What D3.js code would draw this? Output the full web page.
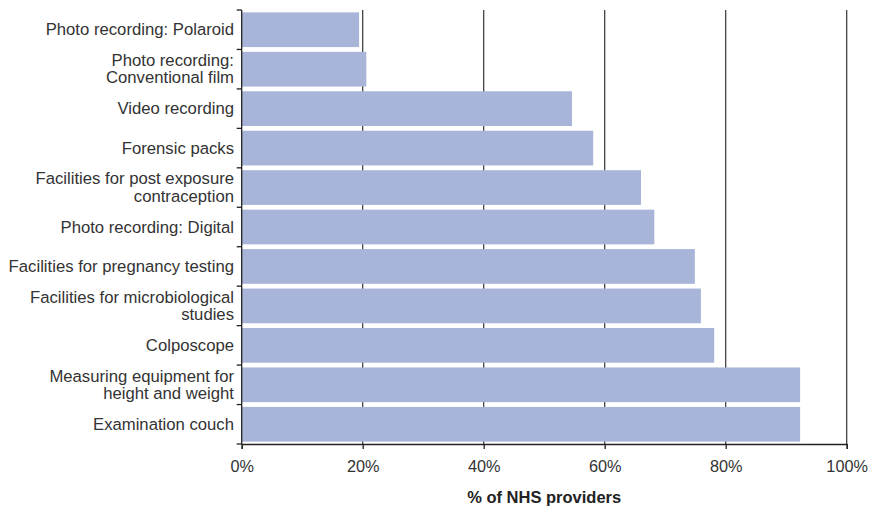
<!DOCTYPE html>
<html><head><meta charset="utf-8">
<script src="https://cdn.jsdelivr.net/npm/d3@7"></script>
<style>body{margin:0;background:#fff}svg text{font-family:"Liberation Sans",Arial,sans-serif}</style>
</head><body>
<svg id="c" width="870" height="508"></svg>
<script>
const categories = [
  "Photo recording: Polaroid",
  "Photo recording:\nConventional film",
  "Video recording",
  "Forensic packs",
  "Facilities for post exposure\ncontraception",
  "Photo recording: Digital",
  "Facilities for pregnancy testing",
  "Facilities for microbiological\nstudies",
  "Colposcope",
  "Measuring equipment for\nheight and weight",
  "Examination couch"
];
const values = [19.4, 20.6, 54.6, 58.1, 66.0, 68.2, 74.9, 75.9, 78.1, 92.3, 92.3];
const xTicks = [0, 20, 40, 60, 80, 100];
const xTitle = "% of NHS providers";

const svg = d3.select("#c");
const L = 241.7, R = 846.7, T = 10, B = 444;
const x = d3.scaleLinear().domain([0, 100]).range([L, R]);
const y = d3.scaleBand().domain(categories).range([T, B]).paddingInner(0.12).paddingOuter(0.06);

// gridlines
svg.append("g").selectAll("line").data(xTicks.filter(d => d > 0)).join("line")
  .attr("x1", d => x(d)).attr("x2", d => x(d)).attr("y1", T).attr("y2", B)
  .attr("stroke", "#333").attr("stroke-width", 1.2);

// bars
svg.append("g").selectAll("rect").data(categories).join("rect")
  .attr("x", x(0)).attr("y", d => y(d))
  .attr("width", (d, i) => x(values[i]) - x(0))
  .attr("height", y.bandwidth())
  .attr("fill", "#a8b5d8");

// y axis line and ticks at band boundaries
const step = (B - T) / categories.length;
svg.append("line").attr("x1", L).attr("x2", L).attr("y1", T).attr("y2", B).attr("stroke", "#222").attr("stroke-width", 1.3);
svg.append("g").selectAll("line").data(d3.range(categories.length + 1)).join("line")
  .attr("x1", L - 5).attr("x2", L).attr("y1", i => T + i * step).attr("y2", i => T + i * step)
  .attr("stroke", "#222").attr("stroke-width", 1.3);

// y labels
const lab = svg.append("g").selectAll("text").data(categories).join("text")
  .attr("text-anchor", "end").attr("font-size", 16.7).attr("fill", "#333");
lab.each(function(d) {
  const lines = d.split("\n");
  const cy = y(d) + y.bandwidth() / 2;
  const lh = 17.5;
  const t = d3.select(this);
  lines.forEach((ln, k) => {
    t.append("tspan").attr("x", 234)
      .attr("y", cy + (k - (lines.length - 1) / 2) * lh + 5.5)
      .text(ln);
  });
});

// x axis
const xa = svg.append("g").attr("transform", `translate(0,${B})`)
  .call(d3.axisBottom(x).tickValues(xTicks).tickFormat(d => d + "%").tickSize(5).tickPadding(11));
xa.select(".domain").attr("stroke", "#222").attr("stroke-width", 1.3);
xa.selectAll(".tick line").attr("stroke", "#222").attr("stroke-width", 1.3);
xa.selectAll(".tick text").attr("font-size", 16.3).attr("fill", "#333").attr("font-family", "Liberation Sans, Arial, sans-serif");

svg.append("text").attr("x", (L + R) / 2).attr("y", 503).attr("text-anchor", "middle")
  .attr("font-size", 16.5).attr("font-weight", "bold").attr("fill", "#222").text(xTitle);
</script>
</body></html>
